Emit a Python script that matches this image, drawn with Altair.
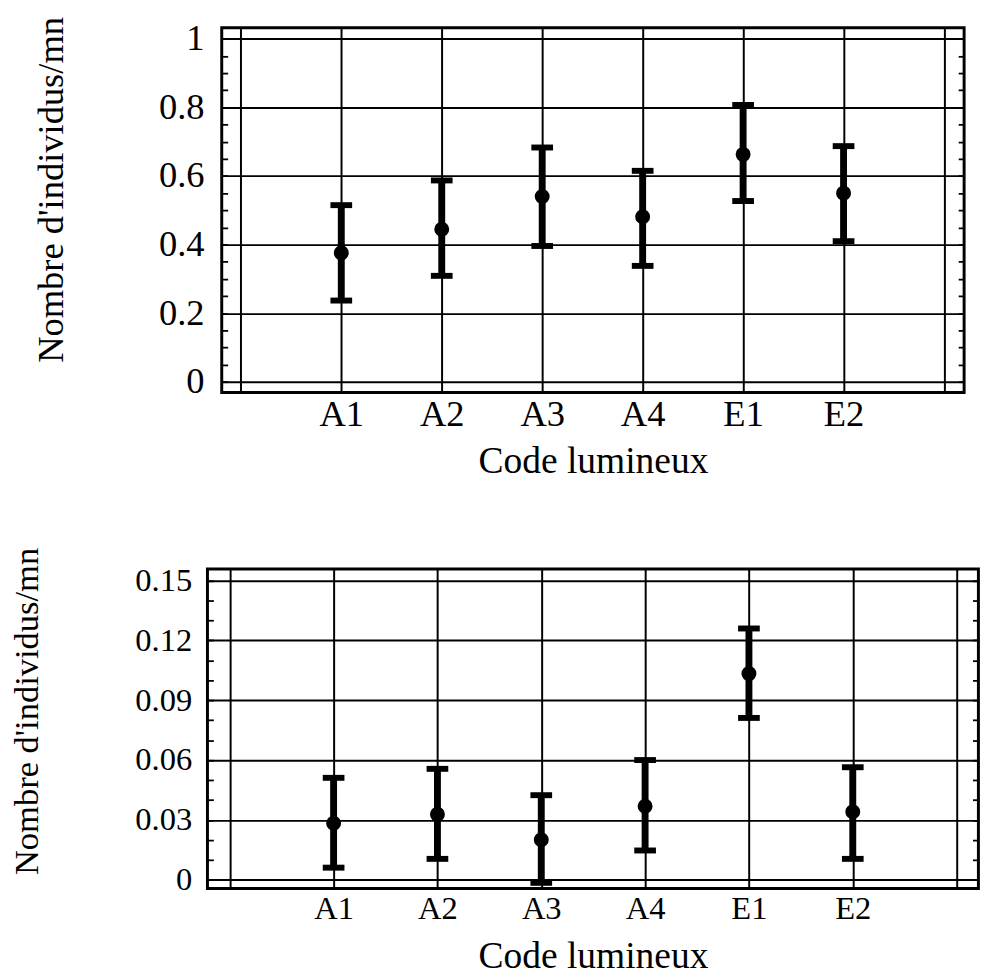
import json
import altair as alt
import pandas as pd

# ---------------- data ----------------
cats = ["A1", "A2", "A3", "A4", "E1", "E2"]
cat_pos = [1, 2, 3, 4, 5, 6]
x_grid = [0, 1, 2, 3, 4, 5, 6, 7]

top_mean = [0.376, 0.445, 0.540, 0.481, 0.663, 0.550]
top_low = [0.237, 0.309, 0.396, 0.338, 0.527, 0.410]
top_high = [0.515, 0.587, 0.683, 0.615, 0.807, 0.687]
top_major = [0, 0.2, 0.4, 0.6, 0.8, 1]
top_ticks = [round(i * 0.05, 2) for i in range(21)]

bot_mean = [0.0283, 0.0328, 0.0201, 0.0369, 0.1033, 0.0341]
bot_low = [0.0061, 0.0105, -0.0015, 0.0147, 0.0811, 0.0105]
bot_high = [0.0511, 0.0556, 0.0424, 0.0600, 0.1259, 0.0564]
bot_major = [0, 0.03, 0.06, 0.09, 0.12, 0.15]
bot_ticks = [round(i * 0.01, 2) for i in range(16)]

x_title = "Code lumineux"
y_title = "Nombre d'individus/mn"

FONT = "Liberation Serif"


def panel(mean, low, high, major, ticks, xdom, ydom, width, height,
          label_fs, ytitle_fs, xtitle_fs, y_label_pad, title_x, title_y,
          x_label_pad, x_title_pad):
    df = pd.DataFrame({"pos": cat_pos, "cat": cats, "mean": mean,
                       "low": low, "high": high})
    is_major = "indexof(%s, datum.value) >= 0" % json.dumps(major)
    xscale = alt.Scale(domain=xdom, nice=False, zero=False)
    yscale = alt.Scale(domain=ydom, nice=False, zero=False)
    xaxis = alt.Axis(
        values=x_grid,
        labelExpr="indexof(%s, datum.value) >= 0 ? %s[indexof(%s, datum.value)] : ''"
        % (json.dumps(cat_pos), json.dumps(cats), json.dumps(cat_pos)),
        title=x_title, grid=True, gridColor="black", gridWidth=2,
        domain=False, ticks=False, labelFlush=False, labelOverlap=False,
        labelFontSize=label_fs, labelPadding=x_label_pad,
        titleFontSize=xtitle_fs, titlePadding=x_title_pad,
    )
    yaxis = alt.Axis(
        values=ticks,
        labelExpr="%s ? format(datum.value, '~g') : ''" % is_major,
        title=y_title, grid=True, gridColor="black", gridWidth=2,
        gridOpacity={"condition": {"test": is_major, "value": 1}, "value": 0},
        domain=False, tickSize={"expr": "-6"}, tickWidth=1.8,
        labelFontSize=label_fs, labelPadding=y_label_pad, labelOverlap=False,
        titleFontSize=ytitle_fs, titleX=title_x, titleY=title_y,
        titleAngle=270, titleBaseline="middle", titleAlign="center",
    )
    yaxis_right = alt.Axis(
        orient="right", values=ticks, labels=False, grid=False, domain=False,
        tickSize={"expr": "-6"}, tickWidth=1.8, title=None,
    )
    X = alt.X("pos:Q", scale=xscale, axis=xaxis)
    base = alt.Chart(df)
    bars = base.mark_rule(strokeWidth=7, color="black").encode(
        x=X, y=alt.Y("low:Q", scale=yscale, axis=yaxis), y2="high:Q")
    cap_hi = base.mark_tick(orient="horizontal", size=22, thickness=6,
                            color="black", opacity=1).encode(
        x=X, y=alt.Y("high:Q", scale=yscale, axis=None))
    cap_lo = base.mark_tick(orient="horizontal", size=22, thickness=6,
                            color="black", opacity=1).encode(
        x=X, y=alt.Y("low:Q", scale=yscale, axis=None))
    dots = base.mark_point(filled=True, size=230, color="black",
                           opacity=1).encode(
        x=X, y=alt.Y("mean:Q", scale=yscale, axis=yaxis_right))
    return alt.layer(bars, cap_hi, cap_lo, dots).resolve_axis(
        y="independent").properties(width=width, height=height)


top = panel(top_mean, top_low, top_high, top_major, top_ticks,
            [-0.19, 7.2], [-0.031, 1.032], 753, 370,
            37, 37, 38, 24, -173, 164, 4, 11)
bottom = panel(bot_mean, bot_low, bot_high, bot_major, bot_ticks,
               [-0.215, 7.21], [-0.0043, 0.1557], 782, 324,
               33, 35, 38, 22, -183, 144, 5, 12)

chart = alt.vconcat(top, bottom, spacing=64, center=True).properties(
    padding={"left": 0, "top": 0, "right": 5, "bottom": 5}
).configure_axis(
    labelFont=FONT, titleFont=FONT, labelColor="black", titleColor="black",
    tickColor="black", titleFontWeight="normal",
).configure_view(stroke="black", strokeWidth=3)

chart.save("out.html", embed_options={"renderer": "svg", "actions": False})
